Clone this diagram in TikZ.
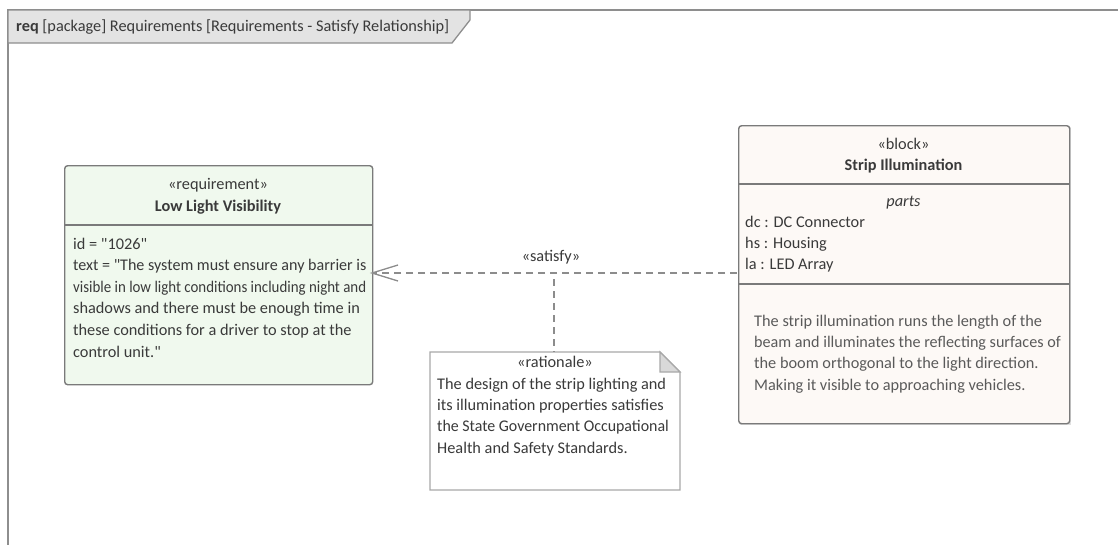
\documentclass[tikz,border=0pt]{standalone}
\usepackage{fontspec}
\usepackage{graphicx}
\setmainfont{Carlito}
\newcommand{\qq}{\textquotedbl}
\begin{document}
\begin{tikzpicture}[x=1pt,y=-1pt,
  txt/.style={inner sep=0pt,anchor=base west,text=textc,font=\fontsize{16.3}{19}\selectfont},
  ctxt/.style={txt,anchor=base},
  desc/.style={txt,text=descc},
  frameline/.style={draw=framec,line width=1.6pt},
  boxline/.style={draw=boxc,line width=1.4pt,rounded corners=3pt},
  sepline/.style={draw=boxc,line width=1.2pt},
  conn/.style={draw=connc,line width=1.3pt,dash pattern=on 7pt off 5pt},
]
\definecolor{framec}{HTML}{8E8E8E}
\definecolor{tabfill}{HTML}{E3E3E3}
\definecolor{boxc}{HTML}{7A7A7A}
\definecolor{reqfill}{HTML}{F0F9EE}
\definecolor{blockfill}{HTML}{FDF9F6}
\definecolor{textc}{HTML}{3A3A3A}
\definecolor{descc}{HTML}{5A5A5A}
\definecolor{connc}{HTML}{8C8C8C}
\definecolor{notec}{HTML}{A8A8A8}
\definecolor{foldfill}{HTML}{D9D9D9}

\useasboundingbox (0,0) rectangle (1118,544);
\fill[white] (0,0) rectangle (1118,544);

% frame
\draw[frameline] (8,560) -- (8,10) -- (1125,10);
\filldraw[fill=tabfill,draw=framec,line width=1.3pt] (8,10) -- (470,10) -- (470,20) -- (452,43) -- (8,43) -- cycle;
\node[txt] (title) at (16,31) {\textbf{req} [package] Requirements [Requirements - Satisfy Relationship]};

% requirement
\node[boxline,fill=reqfill,minimum width=308pt,minimum height=219pt,anchor=north west,inner sep=0pt] (req) at (64,165) {};
\draw[sepline] (64,225) -- (372,225);
\node[ctxt] (rst) at (218,189) {«requirement»};
\node[ctxt] (rname) at (218,211) {\textbf{Low Light Visibility}};
\node[txt] (r1) at (73,249) {id = \qq1026\qq};
\node[txt] (r2) at (73,270.6) {\scalebox{0.985}[1]{text = \qq The system must ensure any barrier is}};
\node[txt] (r3) at (73,292.2) {\scalebox{0.915}[1]{visible in low light conditions including night and}};
\node[txt] (r4) at (73,313.8) {shadows and there must be enough time in};
\node[txt] (r5) at (73,335.4) {these conditions for a driver to stop at the};
\node[txt] (r6) at (73,357) {control unit.\qq};

% block
\fill[black!12] (740,127) rectangle (1071,425);
\node[boxline,fill=blockfill,minimum width=331pt,minimum height=298pt,anchor=north west,inner sep=0pt] (blk) at (738,125) {};
\draw[sepline] (738,184) -- (1069,184);
\draw[sepline] (738,284) -- (1069,284);
\node[ctxt] (bst) at (903.5,149) {«block»};
\node[ctxt] (bname) at (903.5,170) {\textbf{Strip Illumination}};
\node[ctxt] (parts) at (903.5,206) {\textit{parts}};
\node[txt] (p1) at (745,227) {dc : DC Connector};
\node[txt] (p2) at (745,248) {hs : Housing};
\node[txt] (p3) at (745,269) {la : LED Array};
\node[desc] (d1) at (754,326) {The strip illumination runs the length of the};
\node[desc] (d2) at (754,347.3) {\scalebox{0.99}[1]{beam and illuminates the reflecting surfaces of}};
\node[desc] (d3) at (754,368.6) {the boom orthogonal to the light direction.};
\node[desc] (d4) at (754,390) {Making it visible to approaching vehicles.};

% rationale note
\filldraw[fill=white,draw=notec,line width=1.2pt] (430,352) -- (660,352) -- (680,372) -- (680,490) -- (430,490) -- cycle;
\filldraw[fill=foldfill,draw=notec,line width=1.2pt] (660,352) -- (660,372) -- (680,372) -- cycle;
\coordinate (note) at (554,352);
\node[ctxt] (nst) at (555,367) {«rationale»};
\node[txt] (n1) at (437,389) {The design of the strip lighting and};
\node[txt] (n2) at (437,410.3) {its illumination properties satisfies};
\node[txt] (n3) at (437,431.6) {\scalebox{0.975}[1]{the State Government Occupational}};
\node[txt] (n4) at (437,453) {Health and Safety Standards.};

% satisfy connector
\coordinate (reqR) at (372,273);
\coordinate (blkL) at (737,273);
\draw[conn] (blkL) -- (reqR);
\draw[draw=connc,line width=1.3pt] (398,265) -- (reqR) -- (398,281);
\node[ctxt] (sat) at (551,261) {«satisfy»};
\coordinate (mid) at (554,279);
\draw[conn] (mid) -- (note);
\end{tikzpicture}
\end{document}
